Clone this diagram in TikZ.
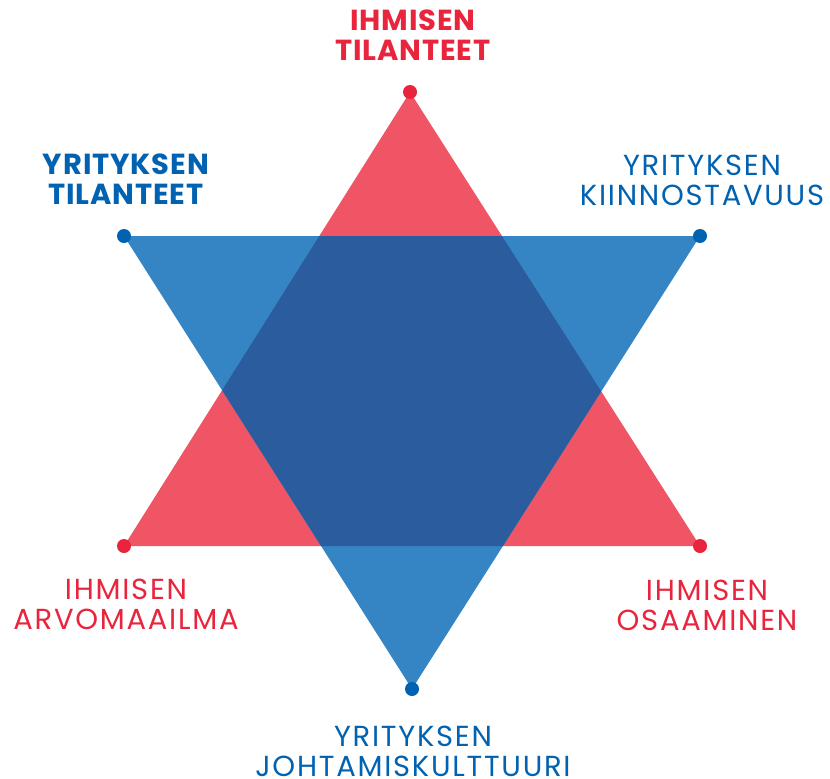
\documentclass[tikz,border=0pt]{standalone}
\usepackage{fontspec}
\setmainfont{Poppins}
\usepackage{tikz}
\usetikzlibrary{positioning}
\definecolor{HumanRed}{RGB}{232,37,60}
\definecolor{SoftRed}{RGB}{240,85,102}
\definecolor{FirmBlue}{RGB}{0,98,177}
\definecolor{SoftBlue}{RGB}{53,133,196}
\definecolor{DeepBlue}{RGB}{43,93,158}

\begin{document}
\begin{tikzpicture}[
    x=1pt, y=-1pt,
    dot/.style={circle, inner sep=0pt, minimum size=14pt},
    reddot/.style={dot, fill=HumanRed},
    bluedot/.style={dot, fill=FirmBlue},
    label/.style={inner sep=0pt, align=center, font=\addfontfeatures{LetterSpace=6}\fontsize{29}{30}\selectfont},
    boldlabel/.style={label, font=\bfseries\addfontfeatures{LetterSpace=3}\fontsize{29}{30}\selectfont},
    redlabel/.style={label, text=HumanRed},
    bluelabel/.style={label, text=FirmBlue}
]
\useasboundingbox (0,0) rectangle (830,779);

% corners of the two triangles
\coordinate (rt) at (410,92);
\coordinate (rl) at (124,546);
\coordinate (rr) at (700,546);
\coordinate (bl) at (124,236);
\coordinate (br) at (700,236);
\coordinate (bb) at (412,689);

\fill[SoftRed] (rt) -- (rl) -- (rr) -- cycle;
\fill[SoftBlue] (bl) -- (br) -- (bb) -- cycle;
\begin{scope}
    \clip (rt) -- (rl) -- (rr) -- cycle;
    \fill[DeepBlue] (bl) -- (br) -- (bb) -- cycle;
\end{scope}

\node[reddot] (ihTil) at (rt) {};
\node[reddot] (ihArv) at (rl) {};
\node[reddot] (ihOsa) at (rr) {};
\node[bluedot] (yrTil) at (bl) {};
\node[bluedot] (yrKii) at (br) {};
\node[bluedot] (yrJoh) at (bb) {};

\node[redlabel, boldlabel] (ihTilText) at (413,35) {IHMISEN\\TILANTEET};
\node[bluelabel, boldlabel] (yrTilText) at (126,179) {YRITYKSEN\\TILANTEET};
\node[bluelabel] (yrKiiText) at (702,180) {YRITYKSEN\\KIINNOSTAVUUS};
\node[redlabel] (ihArvText) at (126,604) {IHMISEN\\ARVOMAAILMA};
\node[redlabel] (ihOsaText) at (707,605) {IHMISEN\\OSAAMINEN};
\node[bluelabel] (yrJohText) at (413,751) {YRITYKSEN\\JOHTAMISKULTTUURI};
\end{tikzpicture}
\end{document}
